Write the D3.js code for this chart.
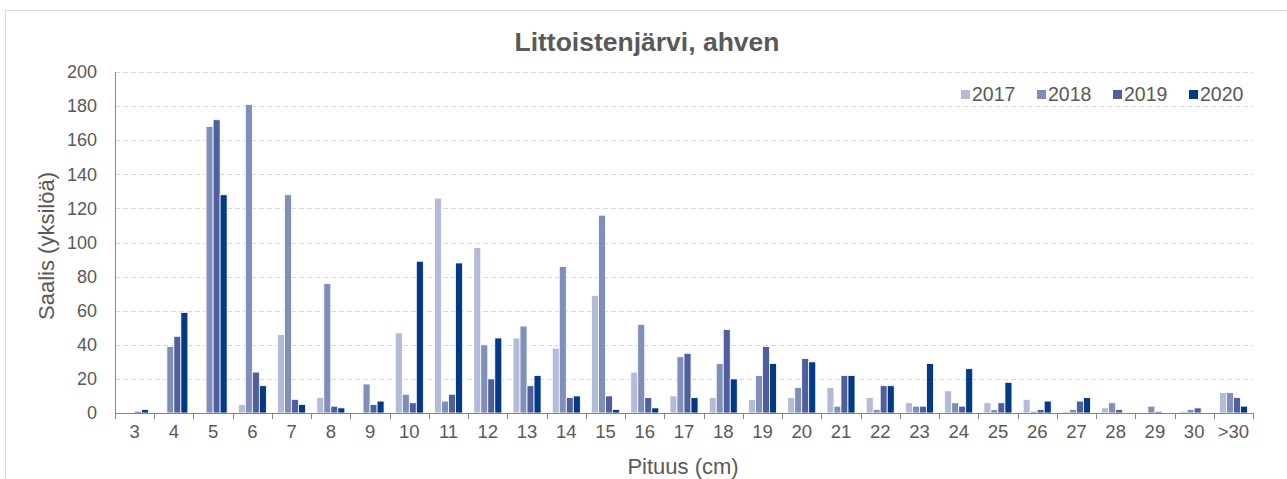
<!DOCTYPE html>
<html>
<head>
<meta charset="utf-8">
<script src="https://cdn.jsdelivr.net/npm/d3@7"></script>
<style>
  body { margin: 0; background: #fff; }
  text { font-family: "Liberation Sans", Arial, sans-serif; fill: #595959; }
</style>
</head>
<body>
<script>
'use strict';

// categories (fish length, cm)
const categories = ["3","4","5","6","7","8","9","10","11","12","13","14","15","16",
  "17","18","19","20","21","22","23","24","25","26","27","28","29","30",">30"];
const years = ["2017", "2018", "2019", "2020"];

// catch per length class, one array per year
const v2017 = [0,0,0,5,46,9,0,47,126,97,44,38,69,24,10,9,8,9,15,9,6,13,6,8,1,3,0,1,12];
const v2018 = [0,39,168,181,128,76,17,11,7,40,51,86,116,52,33,29,22,15,4,2,4,6,2,1,2,6,4,2,12];
const v2019 = [1,45,172,24,8,4,5,6,11,20,16,9,10,9,35,49,39,32,22,16,4,4,6,2,7,2,1,3,9];
const v2020 = [2,59,128,16,5,3,7,89,88,44,22,10,2,3,9,20,29,30,22,16,29,26,18,7,9,0,0,0,4];

const yTicks = [0,20,40,60,80,100,120,140,160,180,200];
const colors = ["#b4bbd8", "#7f8fba", "#4f5f9d", "#033a85"];

let svgContainer = d3.select('body').append('svg')
  .attr('width', 1287)
  .attr('height', 479);

// chart frame
svgContainer.append('rect')
  .attr('x', 5.5).attr('y', 10.5)
  .attr('width', 1300).attr('height', 500)
  .attr('fill', 'none')
  .attr('stroke', '#d9d9d9');

// scales
let x0 = d3.scaleBand().domain(categories).range([115, 1253]).padding(0);
let x1 = d3.scaleBand().domain(years).range([0, x0.bandwidth()])
  .paddingInner(0).paddingOuter(0.8);
let y = d3.scaleLinear().domain([0, 200]).range([413, 72]);

// gridlines
svgContainer.append('g')
  .selectAll('line')
  .data(yTicks.filter(d => d > 0))
  .enter()
  .append('line')
    .attr('x1', 115).attr('x2', 1253)
    .attr('y1', d => Math.round(y(d)) + 0.5)
    .attr('y2', d => Math.round(y(d)) + 0.5)
    .attr('stroke', '#d9d9d9')
    .attr('stroke-width', 1.2)
    .attr('stroke-dasharray', '5,3');

// y axis labels
let yAxis = d3.axisLeft(y).tickValues(yTicks).tickSize(0).tickPadding(18);
let gy = svgContainer.append('g')
  .attr('transform', 'translate(115,0)')
  .call(yAxis);
gy.select('.domain').remove();
gy.selectAll('text')
  .style('font-size', '18px')
  .attr('fill', '#595959');
svgContainer.append('line')
  .attr('x1', 115.5).attr('x2', 115.5)
  .attr('y1', 72).attr('y2', 413)
  .attr('stroke', '#868686');

// bars
let table = categories.map((c, i) => ({
  cat: c,
  vals: [v2017[i], v2018[i], v2019[i], v2020[i]]
}));

let groups = svgContainer.selectAll('.grp')
  .data(table)
  .enter()
  .append('g')
  .attr('transform', d => 'translate(' + x0(d.cat) + ',0)');

groups.selectAll('rect')
  .data(d => d.vals.map((v, k) => ({ year: years[k], value: v, k: k })))
  .enter()
  .append('rect')
    .attr('x', d => x1(d.year))
    .attr('y', d => y(d.value))
    .attr('width', x1.bandwidth())
    .attr('height', d => y(0) - y(d.value))
    .attr('fill', d => colors[d.k])
    .attr('stroke', '#ffffff')
    .attr('stroke-width', 0.8);

// x axis
let xAxis = d3.axisBottom(x0).tickSize(0).tickPadding(12);
let gx = svgContainer.append('g')
  .attr('transform', 'translate(0,413)')
  .call(xAxis);
gx.select('.domain').remove();
gx.selectAll('text')
  .style('font-size', '18.5px')
  .attr('fill', '#595959');
svgContainer.append('line')
  .attr('x1', 115).attr('x2', 1253)
  .attr('y1', 413.5).attr('y2', 413.5)
  .attr('stroke', '#868686');
// boundary ticks
svgContainer.append('g')
  .selectAll('line')
  .data(categories.map(c => x0(c)).concat([x0.range()[1]]))
  .enter()
  .append('line')
    .attr('x1', d => Math.round(d) + 0.5)
    .attr('x2', d => Math.round(d) + 0.5)
    .attr('y1', 413).attr('y2', 419)
    .attr('stroke', '#868686');

// title and axis labels
svgContainer.append('text')
  .attr('x', 647).attr('y', 51)
  .attr('text-anchor', 'middle')
  .style('font-size', '26.5px')
  .style('font-weight', 'bold')
  .text('Littoistenjärvi, ahven');

svgContainer.append('text')
  .attr('transform', 'translate(54,246)rotate(-90)')
  .attr('text-anchor', 'middle')
  .style('font-size', '22px')
  .text('Saalis (yksilöä)');

svgContainer.append('text')
  .attr('x', 683).attr('y', 474)
  .attr('text-anchor', 'middle')
  .style('font-size', '22px')
  .text('Pituus (cm)');

// legend
let legend = svgContainer.selectAll('.leg')
  .data(years)
  .enter()
  .append('g')
  .attr('transform', (d, i) => 'translate(' + (961 + i * 76) + ',0)');
legend.append('rect')
  .attr('x', 0).attr('y', 90)
  .attr('width', 9).attr('height', 9)
  .attr('fill', (d, i) => colors[i]);
legend.append('text')
  .attr('x', 11).attr('y', 101)
  .style('font-size', '19.5px')
  .text(d => d);
</script>
</body>
</html>
